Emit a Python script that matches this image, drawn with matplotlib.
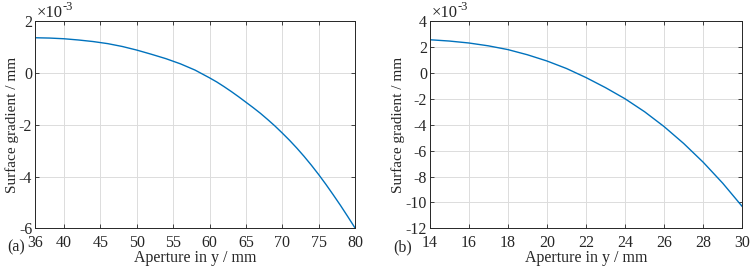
import matplotlib.pyplot as plt

plt.rcParams['font.family'] = ['Liberation Serif', 'DejaVu Serif']
plt.rcParams['axes.unicode_minus'] = False

# Panel (a): aperture in y (mm) vs surface gradient (x1e-3 mm)
ap_a = [36, 38, 40, 42, 44, 46, 48, 50, 52, 54, 56, 58, 60, 61, 62, 63, 64,
        65, 66, 67, 68, 69, 70, 71, 72, 73, 74, 75, 76, 77, 78, 79, 80]
grad_a = [1.357, 1.345, 1.318, 1.27, 1.21, 1.13, 1.02, 0.881, 0.72, 0.55,
          0.35, 0.11, -0.19, -0.35, -0.53, -0.72, -0.92, -1.13, -1.34, -1.56,
          -1.80, -2.05, -2.32, -2.60, -2.90, -3.22, -3.56, -3.92, -4.30,
          -4.70, -5.11, -5.54, -5.98]

# Panel (b)
ap_b = [14, 15, 16, 17, 18, 19, 20, 21, 22, 23, 24, 25, 26, 27, 28, 29, 30]
grad_b = [2.56, 2.46, 2.31, 2.09, 1.80, 1.40, 0.92, 0.34, -0.36, -1.14,
          -2.00, -3.00, -4.15, -5.45, -6.90, -8.52, -10.32]

xt_a = [36, 40, 45, 50, 55, 60, 65, 70, 75, 80]
yt_a = [-6, -4, -2, 0, 2]
xt_b = [14, 16, 18, 20, 22, 24, 26, 28, 30]
yt_b = [-12, -10, -8, -6, -4, -2, 0, 2, 4]

fig = plt.figure(figsize=(7.51, 2.66), dpi=100)
ax1 = fig.add_axes([0.0466, 0.1417, 0.426, 0.779])
ax2 = fig.add_axes([0.5722, 0.1417, 0.4162, 0.779])

# (axes, x, y, xticks, yticks, tag, ylabel x, tag x)
panels = [(ax1, ap_a, grad_a, xt_a, yt_a, '(a)', -0.072, -0.0875),
          (ax2, ap_b, grad_b, xt_b, yt_b, '(b)', -0.101, -0.117)]

txt = '#262626'
for ax, x, y, xt, yt, tag, ylx, tagx in panels:
    ax.plot(x, y, color='#0072BD', lw=1.0)
    ax.set_xlim(xt[0], xt[-1])
    ax.set_ylim(yt[0], yt[-1])
    ax.set_xticks(xt)
    ax.set_yticks(yt)
    ax.grid(True, color='#dcdcdc', lw=0.7)
    ax.set_axisbelow(True)
    ax.tick_params(direction='in', top=True, right=True, labelsize=11.5,
                   length=3, width=0.6, colors=txt)
    ax.tick_params(axis='x', pad=5)
    ax.tick_params(axis='y', pad=2)
    for s in ax.spines.values():
        s.set_color(txt)
        s.set_linewidth(0.7)
    ax.set_xlabel('Aperture in y / mm', fontsize=11.5, color=txt)
    ax.xaxis.set_label_coords(0.5, -0.105)
    ax.set_ylabel('Surface gradient / mm', fontsize=11, color=txt)
    ax.yaxis.set_label_coords(ylx, 0.5)
    ax.yaxis.label.set_va('center')
    # MATLAB style exponent, with a plain hyphen
    t = ax.text(0.005, 1.0, '\u00d710', transform=ax.transAxes,
                fontsize=12, va='bottom', ha='left', color=txt)
    ax.annotate('-3', xy=(1.0, 0.85), xycoords=t, fontsize=9,
                va='center', ha='left', color=txt)
    ax.text(tagx, -0.09, tag, transform=ax.transAxes, fontsize=11.5,
            va='center', ha='left', color=txt)

fig.savefig('out.png', dpi=100)
